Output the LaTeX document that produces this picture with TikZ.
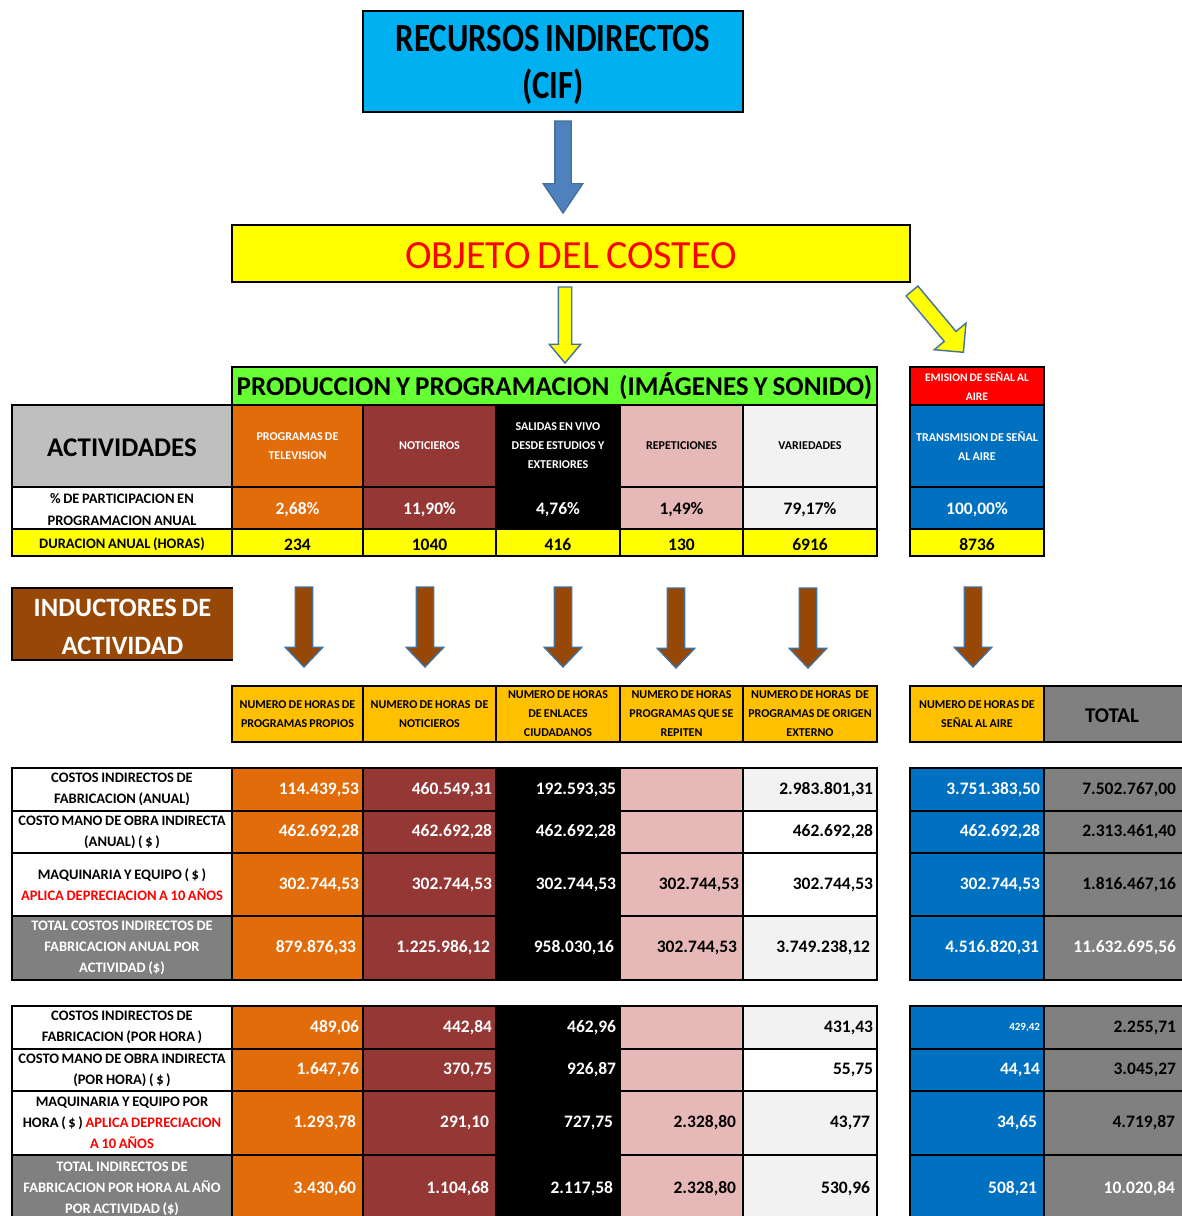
\documentclass[tikz,border=0pt]{standalone}
\usepackage{fontspec}
\setmainfont{Carlito}[WordSpace=0.8]
\usetikzlibrary{shapes.arrows}

\definecolor{cifblue}{HTML}{00B0F0}
\definecolor{ylw}{HTML}{FFFF00}
\definecolor{grn}{HTML}{66FF33}
\definecolor{orng}{HTML}{E26B0A}
\definecolor{dred}{HTML}{953735}
\definecolor{pnk}{HTML}{E6B8B7}
\definecolor{lgry}{HTML}{F2F2F2}
\definecolor{sblue}{HTML}{0070C0}
\definecolor{mgry}{HTML}{BFBFBF}
\definecolor{dgry}{HTML}{808080}
\definecolor{brwn}{HTML}{974706}
\definecolor{amber}{HTML}{FFC000}
\definecolor{arrline}{HTML}{41719C}
\definecolor{arrblue}{HTML}{4F81BD}

\tikzset{
  cellbox/.style={draw=black, line width=1.6pt, inner sep=0pt, outer sep=0pt},
  celltext/.style={inner sep=0pt, outer sep=0pt, align=center},
  hdr/.style={font=\bfseries\fontsize{12}{19}\selectfont},
  lbl/.style={font=\bfseries\fontsize{14.5}{21}\selectfont},
  num/.style={font=\bfseries\fontsize{17.5}{20}\selectfont, anchor=east, xshift=\tchalf pt-4pt},
  ex/.style={xshift=-#1pt},
  pct/.style={font=\bfseries\fontsize{17.5}{20}\selectfont, yshift=-2pt},
  wt/.style={text=white},
  blockarrow/.style={single arrow, draw=arrline, line width=1.4pt, inner xsep=0pt,
    outer sep=0pt, single arrow head indent=0pt, anchor=tail},
  brownarrow/.style={blockarrow, fill=brwn, rotate=-90, minimum height=80pt, inner ysep=8pt,
    minimum width=36pt, single arrow head extend=10pt, single arrow tip angle=87},
}

% table cell: name, x1, y1, x2, y2, fill, text options, text
\newcommand\tcell[8]{%
  \pgfmathsetmacro\tcw{#4-#2}%
  \pgfmathsetmacro\tchalf{(#4-#2)/2}%
  \pgfmathsetmacro\tch{#5-#3}%
  \pgfmathsetmacro\tcx{(#2+#4)/2}%
  \pgfmathsetmacro\tcy{(#3+#5)/2}%
  \node[cellbox, fill=#6, minimum width=\tcw pt, minimum height=\tch pt] (#1) at (\tcx,\tcy) {};%
  \node[celltext, #7] (#1t) at (#1.center) {#8};%
}

\begin{document}
\begin{tikzpicture}[x=1pt, y=-1pt]
\useasboundingbox (0,0) rectangle (1182,1216);
\clip (0,0) rectangle (1182,1216);
\fill[white] (0,0) rectangle (1182,1216);

% ---------- resources and cost object ----------
\node[cellbox, line width=2.2pt, fill=cifblue, minimum width=380pt, minimum height=101pt] (cif) at (553,61.5) {};
\node[celltext, yshift=-3pt, font=\bfseries\fontsize{40}{47}\selectfont] (ciftext) at (cif.center)
  {\scalebox{0.82}[1]{RECURSOS INDIRECTOS}\\\scalebox{0.82}[1]{(CIF)}};
\node[blockarrow, fill=arrblue, rotate=-90, minimum height=92pt, minimum width=38pt, inner ysep=7.5pt,
  single arrow head extend=11.5pt, single arrow tip angle=68] (a1) at (563,121) {};

\node[cellbox, line width=2pt, fill=ylw, minimum width=678pt, minimum height=57pt] (obj) at (571,253.5) {};
\node[celltext, text=red, font=\fontsize{40}{44}\selectfont, yshift=-2pt] (objtext) at (obj.center) {OBJETO DEL COSTEO};
\node[blockarrow, fill=ylw, rotate=-90, minimum height=76pt, minimum width=30pt, inner ysep=6pt,
  single arrow head extend=9pt, single arrow tip angle=80] (a2) at (565,287) {};
\node[blockarrow, fill=ylw, rotate=-50, minimum height=80pt, minimum width=40pt, inner ysep=7pt,
  single arrow head extend=13pt, single arrow tip angle=90] (a3) at (912,291) {};

% ---------- activities ----------
\tcell{prod}{232}{367}{877}{405}{grn}{font=\bfseries\fontsize{27.1}{30}\selectfont}
  {PRODUCCION Y PROGRAMACION \ (IMÁGENES Y SONIDO)}
\tcell{emis}{910}{367}{1044}{405}{red}{wt, font=\bfseries\fontsize{11.5}{19}\selectfont}
  {EMISION DE SEÑAL AL\\AIRE}

\tcell{act}{12}{405}{232}{487}{mgry}{font=\bfseries\fontsize{27}{30}\selectfont, yshift=-2pt}{ACTIVIDADES}
\tcell{h1}{232}{405}{363}{487}{orng}{hdr, wt}{PROGRAMAS DE\\TELEVISION}
\tcell{h2}{363}{405}{496}{487}{dred}{hdr, wt}{NOTICIEROS}
\tcell{h3}{496}{405}{620}{487}{black}{hdr, wt}{SALIDAS EN VIVO\\DESDE ESTUDIOS Y\\EXTERIORES}
\tcell{h4}{620}{405}{743}{487}{pnk}{hdr}{REPETICIONES}
\tcell{h5}{743}{405}{877}{487}{lgry}{hdr}{VARIEDADES}
\tcell{h6}{910}{405}{1044}{487}{sblue}{hdr, wt}{TRANSMISION DE SEÑAL\\AL AIRE}

\tcell{p0}{12}{487}{232}{529}{white}{font=\bfseries\fontsize{14.5}{22}\selectfont, yshift=-2pt}
  {\% DE PARTICIPACION EN\\PROGRAMACION ANUAL}
\tcell{p1}{232}{487}{363}{529}{orng}{pct, wt}{2,68\%}
\tcell{p2}{363}{487}{496}{529}{dred}{pct, wt}{11,90\%}
\tcell{p3}{496}{487}{620}{529}{black}{pct, wt}{4,76\%}
\tcell{p4}{620}{487}{743}{529}{pnk}{pct}{1,49\%}
\tcell{p5}{743}{487}{877}{529}{lgry}{pct}{79,17\%}
\tcell{p6}{910}{487}{1044}{529}{sblue}{pct, wt}{100,00\%}

\tcell{d0}{12}{529}{232}{556}{ylw}{lbl, yshift=-2pt}{DURACION ANUAL (HORAS)}
\tcell{d1}{232}{529}{363}{556}{ylw}{pct}{234}
\tcell{d2}{363}{529}{496}{556}{ylw}{pct}{1040}
\tcell{d3}{496}{529}{620}{556}{ylw}{pct}{416}
\tcell{d4}{620}{529}{743}{556}{ylw}{pct}{130}
\tcell{d5}{743}{529}{877}{556}{ylw}{pct}{6916}
\tcell{d6}{910}{529}{1044}{556}{ylw}{pct}{8736}

% ---------- activity drivers ----------
\node[fill=brwn, minimum width=221pt, minimum height=72pt, inner sep=0pt, outer sep=0pt] (ind) at (122.5,624) {};
\draw[line width=2pt] (ind.north east) -- (ind.north west) -- (ind.south west) -- (ind.south east);
\node[celltext, text=white, font=\bfseries\fontsize{26.5}{38}\selectfont, yshift=-3pt] (indtext) at (ind.center)
  {INDUCTORES DE\\ACTIVIDAD};

\node[brownarrow] (b1) at (304,587) {};
\node[brownarrow] (b2) at (425,587) {};
\node[brownarrow] (b3) at (563,587) {};
\node[brownarrow] (b4) at (676,588) {};
\node[brownarrow] (b5) at (808,588) {};
\node[brownarrow] (b6) at (973,587) {};

\tcell{i1}{232}{686}{363}{742}{amber}{hdr}{NUMERO DE HORAS DE\\PROGRAMAS PROPIOS}
\tcell{i2}{363}{686}{496}{742}{amber}{hdr}{NUMERO DE HORAS \ DE\\NOTICIEROS}
\tcell{i3}{496}{686}{620}{742}{amber}{hdr}{NUMERO DE HORAS\\DE ENLACES\\CIUDADANOS}
\tcell{i4}{620}{686}{743}{742}{amber}{hdr}{NUMERO DE HORAS\\PROGRAMAS QUE SE\\REPITEN}
\tcell{i5}{743}{686}{877}{742}{amber}{hdr}{NUMERO DE HORAS \ DE\\PROGRAMAS DE ORIGEN\\EXTERNO}
\tcell{i6}{910}{686}{1044}{742}{amber}{hdr}{NUMERO DE HORAS DE\\SEÑAL AL AIRE}
\tcell{i7}{1044}{686}{1184}{742}{dgry}{font=\bfseries\fontsize{21}{24}\selectfont, xshift=-2pt, yshift=-2pt}{TOTAL}

% ---------- annual costs ----------
\tcell{r1c0}{12}{768}{232}{811}{white}{lbl}{COSTOS INDIRECTOS DE\\FABRICACION (ANUAL)}
\tcell{r1c1}{232}{768}{363}{811}{orng}{num, wt}{114.439,53}
\tcell{r1c2}{363}{768}{496}{811}{dred}{num, wt}{460.549,31}
\tcell{r1c3}{496}{768}{620}{811}{black}{num, wt}{192.593,35}
\tcell{r1c4}{620}{768}{743}{811}{pnk}{num}{}
\tcell{r1c5}{743}{768}{877}{811}{lgry}{num}{2.983.801,31}
\tcell{r1c6}{910}{768}{1044}{811}{sblue}{num, wt}{3.751.383,50}
\tcell{r1c7}{1044}{768}{1184}{811}{dgry}{num, ex=4}{7.502.767,00}

\tcell{r2c0}{12}{811}{232}{853}{white}{lbl}{COSTO MANO DE OBRA INDIRECTA\\(ANUAL) ( \$ )}
\tcell{r2c1}{232}{811}{363}{853}{orng}{num, wt}{462.692,28}
\tcell{r2c2}{363}{811}{496}{853}{dred}{num, wt}{462.692,28}
\tcell{r2c3}{496}{811}{620}{853}{black}{num, wt}{462.692,28}
\tcell{r2c4}{620}{811}{743}{853}{pnk}{num}{}
\tcell{r2c5}{743}{811}{877}{853}{white}{num}{462.692,28}
\tcell{r2c6}{910}{811}{1044}{853}{sblue}{num, wt}{462.692,28}
\tcell{r2c7}{1044}{811}{1184}{853}{dgry}{num, ex=4}{2.313.461,40}

\tcell{r3c0}{12}{853}{232}{916}{white}{lbl}{MAQUINARIA Y EQUIPO ( \$ )\\\textcolor{red}{APLICA DEPRECIACION A 10 AÑOS}}
\tcell{r3c1}{232}{853}{363}{916}{orng}{num, wt}{302.744,53}
\tcell{r3c2}{363}{853}{496}{916}{dred}{num, wt}{302.744,53}
\tcell{r3c3}{496}{853}{620}{916}{black}{num, wt}{302.744,53}
\tcell{r3c4}{620}{853}{743}{916}{pnk}{num}{302.744,53}
\tcell{r3c5}{743}{853}{877}{916}{white}{num}{302.744,53}
\tcell{r3c6}{910}{853}{1044}{916}{sblue}{num, wt}{302.744,53}
\tcell{r3c7}{1044}{853}{1184}{916}{dgry}{num, ex=4}{1.816.467,16}

\tcell{r4c0}{12}{916}{232}{980}{dgry}{lbl, wt}{TOTAL COSTOS INDIRECTOS DE\\FABRICACION ANUAL POR\\ACTIVIDAD (\$)}
\tcell{r4c1}{232}{916}{363}{980}{orng}{num, wt, ex=3}{879.876,33}
\tcell{r4c2}{363}{916}{496}{980}{dred}{num, wt, ex=2}{1.225.986,12}
\tcell{r4c3}{496}{916}{620}{980}{black}{num, wt, ex=2}{958.030,16}
\tcell{r4c4}{620}{916}{743}{980}{pnk}{num, ex=2}{302.744,53}
\tcell{r4c5}{743}{916}{877}{980}{lgry}{num, ex=3}{3.749.238,12}
\tcell{r4c6}{910}{916}{1044}{980}{sblue}{num, wt, ex=1}{4.516.820,31}
\tcell{r4c7}{1044}{916}{1184}{980}{dgry}{num, wt, ex=4}{11.632.695,56}

% ---------- hourly costs ----------
\tcell{s1c0}{12}{1006}{232}{1049}{white}{lbl}{COSTOS INDIRECTOS DE\\FABRICACION (POR HORA )}
\tcell{s1c1}{232}{1006}{363}{1049}{orng}{num, wt}{489,06}
\tcell{s1c2}{363}{1006}{496}{1049}{dred}{num, wt}{442,84}
\tcell{s1c3}{496}{1006}{620}{1049}{black}{num, wt}{462,96}
\tcell{s1c4}{620}{1006}{743}{1049}{pnk}{num}{}
\tcell{s1c5}{743}{1006}{877}{1049}{lgry}{num}{431,43}
\tcell{s1c6}{910}{1006}{1044}{1049}{sblue}{num, wt, font=\bfseries\fontsize{11}{13}\selectfont}{429,42}
\tcell{s1c7}{1044}{1006}{1184}{1049}{dgry}{num, ex=4}{2.255,71}

\tcell{s2c0}{12}{1049}{232}{1091}{white}{lbl}{COSTO MANO DE OBRA INDIRECTA\\(POR HORA) ( \$ )}
\tcell{s2c1}{232}{1049}{363}{1091}{orng}{num, wt}{1.647,76}
\tcell{s2c2}{363}{1049}{496}{1091}{dred}{num, wt}{370,75}
\tcell{s2c3}{496}{1049}{620}{1091}{black}{num, wt}{926,87}
\tcell{s2c4}{620}{1049}{743}{1091}{pnk}{num}{}
\tcell{s2c5}{743}{1049}{877}{1091}{white}{num}{55,75}
\tcell{s2c6}{910}{1049}{1044}{1091}{sblue}{num, wt}{44,14}
\tcell{s2c7}{1044}{1049}{1184}{1091}{dgry}{num, ex=4}{3.045,27}

\tcell{s3c0}{12}{1091}{232}{1155}{white}{lbl}{MAQUINARIA Y EQUIPO POR\\HORA ( \$ ) \textcolor{red}{APLICA DEPRECIACION}\\\textcolor{red}{A 10 AÑOS}}
\tcell{s3c1}{232}{1091}{363}{1155}{orng}{num, wt, ex=3}{1.293,78}
\tcell{s3c2}{363}{1091}{496}{1155}{dred}{num, wt, ex=3}{291,10}
\tcell{s3c3}{496}{1091}{620}{1155}{black}{num, wt, ex=3}{727,75}
\tcell{s3c4}{620}{1091}{743}{1155}{pnk}{num, ex=3}{2.328,80}
\tcell{s3c5}{743}{1091}{877}{1155}{lgry}{num, ex=3}{43,77}
\tcell{s3c6}{910}{1091}{1044}{1155}{sblue}{num, wt, ex=3}{34,65}
\tcell{s3c7}{1044}{1091}{1184}{1155}{dgry}{num, ex=5}{4.719,87}

\tcell{s4c0}{12}{1155}{232}{1222}{dgry}{lbl, wt}{TOTAL INDIRECTOS DE\\FABRICACION POR HORA AL AÑO\\POR ACTIVIDAD (\$)}
\tcell{s4c1}{232}{1155}{363}{1222}{orng}{num, wt, ex=3}{3.430,60}
\tcell{s4c2}{363}{1155}{496}{1222}{dred}{num, wt, ex=3}{1.104,68}
\tcell{s4c3}{496}{1155}{620}{1222}{black}{num, wt, ex=3}{2.117,58}
\tcell{s4c4}{620}{1155}{743}{1222}{pnk}{num, ex=3}{2.328,80}
\tcell{s4c5}{743}{1155}{877}{1222}{lgry}{num, ex=3}{530,96}
\tcell{s4c6}{910}{1155}{1044}{1222}{sblue}{num, wt, ex=3}{508,21}
\tcell{s4c7}{1044}{1155}{1184}{1222}{dgry}{num, wt, ex=5}{10.020,84}
\end{tikzpicture}
\end{document}
